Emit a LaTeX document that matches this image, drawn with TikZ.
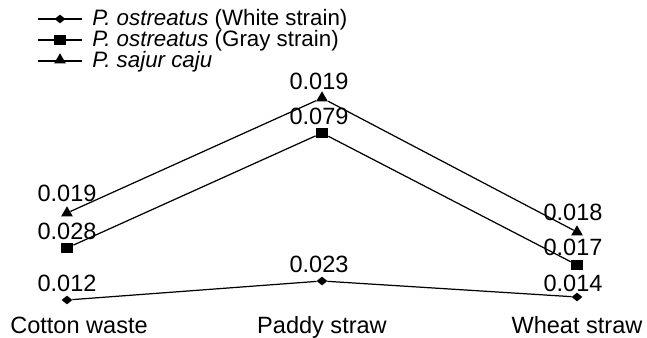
\documentclass[tikz,border=0pt]{standalone}
\usepackage{fontspec}
\setmainfont{Liberation Sans}
\usetikzlibrary{shapes.geometric,positioning}
\begin{document}
\begin{tikzpicture}[x=0.02cm,y=-0.02cm,
    font=\fontsize{13.4}{16}\selectfont,
    link/.style={line width=0.7pt},
    dia/.style={diamond,fill=black,inner sep=0pt,minimum width=0.22cm,minimum height=0.18cm},
    sq/.style={rectangle,fill=black,inner sep=0pt,minimum width=0.24cm,minimum height=0.19cm},
    tri/.style={regular polygon,regular polygon sides=3,fill=black,inner sep=0pt,minimum size=0.27cm},
    num/.style={inner sep=0pt},
    key/.style={anchor=base west,inner sep=0pt,font=\fontsize{12.7}{15}\selectfont}]
  \useasboundingbox (0,0) rectangle (647,338);
  \coordinate (lwa) at (38,19);
  \coordinate (lwb) at (82,19);
  \coordinate (lga) at (38,40);
  \coordinate (lgb) at (82,40);
  \coordinate (lsa) at (38,61);
  \coordinate (lsb) at (82,61);
  \draw[link] (lwa) -- (lwb);
  \draw[link] (lga) -- (lgb);
  \draw[link] (lsa) -- (lsb);
  \node[dia] (lw) at (60,19) {};
  \node[sq] (lg) at (60,40) {};
  \node[tri] (ls) at (60,60) {};
  \node[key] (tw) at (92,26) {\textit{P. ostreatus} (White strain)};
  \node[key] (tg) at (92,47) {\textit{P. ostreatus} (Gray strain)};
  \node[key] (ts) at (92,68) {\textit{P. sajur caju}};
  \node[dia] (cwhite) at (67,300) {};
  \node[sq] (cgray) at (67,248) {};
  \node[tri] (csajur) at (67,213) {};
  \node[dia] (pwhite) at (322,281) {};
  \node[sq] (pgray) at (322,133) {};
  \node[tri] (psajur) at (322,98) {};
  \node[dia] (wwhite) at (577,297) {};
  \node[sq] (wgray) at (577,265) {};
  \node[tri] (wsajur) at (577,232) {};
  \draw[link] (cwhite) -- (pwhite) -- (wwhite);
  \draw[link] (cgray) -- (pgray) -- (wgray);
  \draw[link] (csajur) -- (psajur) -- (wsajur);
  \node[num,above=0.15cm of cwhite.center] (ncw) {0.012};
  \node[num,above=0.15cm of cgray.center] (ncg) {0.028};
  \node[num,above=0.21cm of csajur.center] (ncs) {0.019};
  \node[num,above=0.15cm of pwhite.center,xshift=-0.06cm] (npw) {0.023};
  \node[num,above=0.15cm of pgray.center,xshift=-0.06cm] (npg) {0.079};
  \node[num,above=0.15cm of psajur.center,xshift=-0.06cm] (nps) {0.019};
  \node[num,above=0.1cm of wwhite.center,xshift=-0.08cm] (nww) {0.014};
  \node[num,above=0.17cm of wgray.center,xshift=-0.08cm] (nwg) {0.017};
  \node[num,above=0.21cm of wsajur.center,xshift=-0.08cm] (nws) {0.018};
  \node[anchor=base] (cotton) at (79,334) {Cotton waste};
  \node[anchor=base] (paddy) at (322,334) {Paddy straw};
  \node[anchor=base] (wheat) at (577,334) {Wheat straw};
\end{tikzpicture}
\end{document}
